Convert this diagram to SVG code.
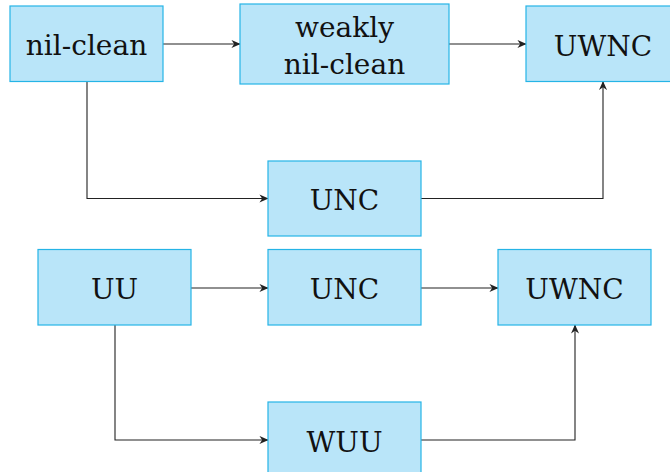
<svg xmlns="http://www.w3.org/2000/svg" width="670" height="472" viewBox="0 0 670 472">
<style>
.box{fill:#b9e5f9;stroke:#25b4e6;stroke-width:1.2}
.t{font-family:'DejaVu Serif','Liberation Serif',serif;font-size:28px;fill:#111;text-anchor:middle}
.c{fill:none;stroke:#222;stroke-width:1.1;marker-end:url(#ah)}
</style>
<defs>
<marker id="ah" viewBox="0 0 10 10" refX="9.5" refY="5" markerWidth="9" markerHeight="9" markerUnits="userSpaceOnUse" orient="auto">
<path d="M0,0.5 L10,5 L0,9.5 L3,5 Z" fill="#222"/>
</marker>
</defs>
<rect width="670" height="472" fill="#fff"/>
<g id="connectors">
<path class="c" d="M163,44 H240"/>
<path class="c" d="M449,44 H526"/>
<path class="c" d="M87,81.5 V198.5 H268"/>
<path class="c" d="M421,198.5 H603 V81.5"/>
<path class="c" d="M191,288 H268"/>
<path class="c" d="M421,288 H498"/>
<path class="c" d="M115,325 V440 H268"/>
<path class="c" d="M421,440 H575 V325"/>
</g>
<g id="n1"><rect class="box" x="10" y="6" width="153" height="75.5"/><text class="t" x="86.5" y="55">nil-clean</text></g>
<g id="n2"><rect class="box" x="240" y="4" width="209" height="80"/><text class="t" x="344.5" y="36.5">weakly</text><text class="t" x="344.5" y="74">nil-clean</text></g>
<g id="n3"><rect class="box" x="526" y="6" width="154" height="75.5"/><text class="t" x="603" y="56">UWNC</text></g>
<g id="n4"><rect class="box" x="268" y="161" width="153" height="75"/><text class="t" x="344.5" y="210">UNC</text></g>
<g id="n5"><rect class="box" x="38" y="249.5" width="153" height="75.5"/><text class="t" x="114.5" y="299">UU</text></g>
<g id="n6"><rect class="box" x="268" y="249.5" width="153" height="75.5"/><text class="t" x="344.5" y="299">UNC</text></g>
<g id="n7"><rect class="box" x="498" y="249.5" width="153" height="75.5"/><text class="t" x="574.5" y="299">UWNC</text></g>
<g id="n8"><rect class="box" x="268" y="402" width="153" height="76"/><text class="t" x="344.5" y="451.5">WUU</text></g>
</svg>
